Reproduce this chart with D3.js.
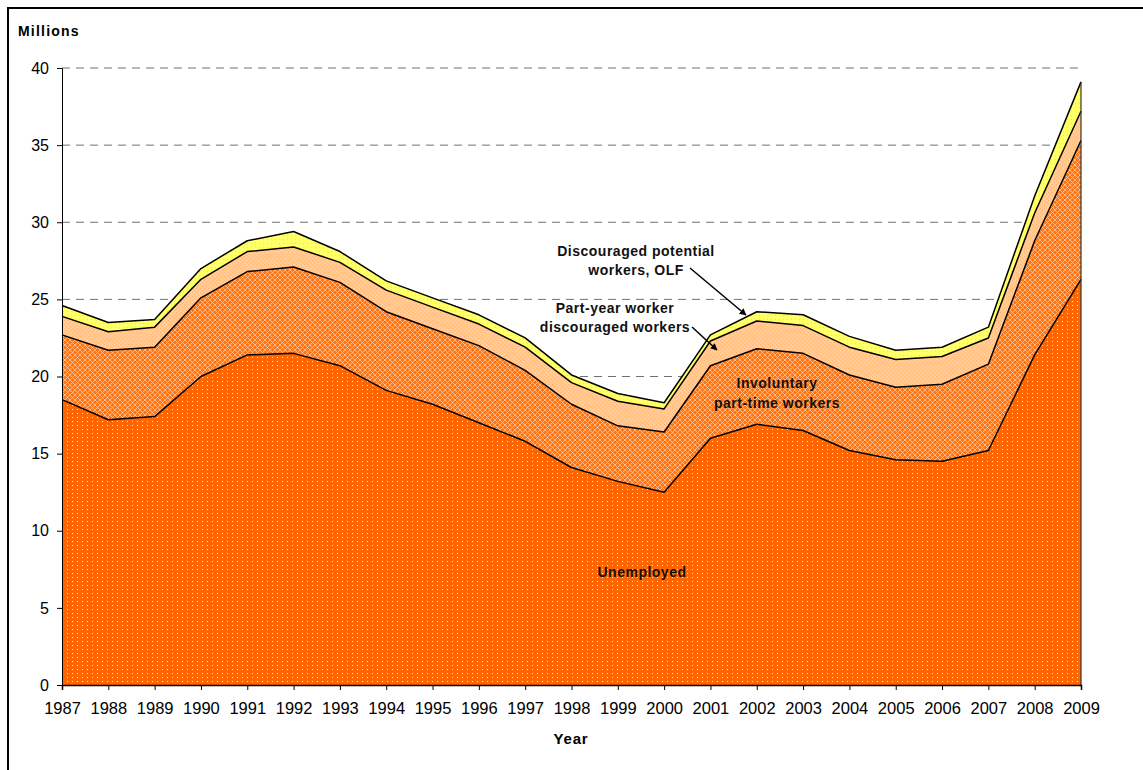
<!DOCTYPE html>
<html><head><meta charset="utf-8">
<script src="https://cdn.jsdelivr.net/npm/d3@7"></script>
<style>
html,body{margin:0;padding:0;background:#fff;}
svg{display:block;font-family:"Liberation Sans",Arial,sans-serif;}
</style></head>
<body>
<svg id="chart" width="1143" height="770"></svg>
<script>
const years = [1987,1988,1989,1990,1991,1992,1993,1994,1995,1996,1997,1998,1999,2000,2001,2002,2003,2004,2005,2006,2007,2008,2009];
const unemployed   = [18.5,17.2,17.4,20.0,21.4,21.5,20.7,19.1,18.2,17.0,15.8,14.1,13.2,12.5,16.0,16.9,16.5,15.2,14.6,14.5,15.2,21.4,26.3];
const involuntaryPT = [4.2,4.5,4.5,5.1,5.4,5.6,5.4,5.1,4.9,5.0,4.6,4.1,3.6,3.9,4.7,4.9,5.0,4.9,4.7,5.0,5.6,7.4,9.0];
const partYearDisc = [1.2,1.2,1.3,1.2,1.3,1.3,1.3,1.4,1.4,1.4,1.5,1.4,1.6,1.5,1.6,1.8,1.8,1.8,1.8,1.8,1.7,1.8,1.9];
const discouragedOLF = [0.7,0.6,0.5,0.7,0.7,1.0,0.7,0.6,0.6,0.6,0.6,0.5,0.5,0.4,0.4,0.6,0.7,0.7,0.6,0.6,0.7,1.1,1.9];
const yTicks = [0,5,10,15,20,25,30,35,40];
const seriesKeys = ["unemployed","involuntary","partyear","discouraged"];

const table = years.map((y,i)=>({year:y, unemployed:unemployed[i], involuntary:involuntaryPT[i], partyear:partYearDisc[i], discouraged:discouragedOLF[i]}));

const svg = d3.select("#chart");
const x = d3.scaleLinear().domain([1987,2009]).range([62,1081]);
const y = d3.scaleLinear().domain([0,40]).range([685,68]);

// patterns
const defs = svg.append("defs");
function pat(id, w, h, base, draw){
  const p = defs.append("pattern").attr("id",id).attr("patternUnits","userSpaceOnUse").attr("width",w).attr("height",h);
  p.append("rect").attr("width",w).attr("height",h).attr("fill",base);
  draw(p);
}
pat("pU",5,4,"#FF6600",p=>{
  p.append("rect").attr("x",2).attr("y",1).attr("width",1).attr("height",1).attr("fill","#FFE8D6");
});
pat("pI",5,5,"#FF7514",p=>{
  p.append("path").attr("d","M0,0L5,5M5,0L0,5").attr("stroke","#FFC9A3").attr("stroke-width",0.8);
});
pat("pP",4,4,"#FFCC99",p=>{
  p.append("rect").attr("x",0).attr("y",0).attr("width",1).attr("height",1).attr("fill","#FFB472");
  p.append("rect").attr("x",2).attr("y",2).attr("width",1).attr("height",1).attr("fill","#FFB472");
});
pat("pD",4,4,"#FFFF66",p=>{
  p.append("rect").attr("x",1).attr("y",1).attr("width",1).attr("height",1).attr("fill","#FFFFD8");
  p.append("rect").attr("x",3).attr("y",3).attr("width",1).attr("height",1).attr("fill","#EEEE50");
});
const fills = {unemployed:"url(#pU)", involuntary:"url(#pI)", partyear:"url(#pP)", discouraged:"url(#pD)"};

defs.append("marker").attr("id","arr").attr("viewBox","0 0 10 10").attr("refX",9).attr("refY",5)
  .attr("markerWidth",7).attr("markerHeight",7).attr("orient","auto").attr("markerUnits","userSpaceOnUse")
  .append("path").attr("d","M0,0L10,5L0,10z").attr("fill","#000");

// frame
svg.append("rect").attr("x",8).attr("y",8).attr("width",1300).attr("height",900)
  .attr("fill","none").attr("stroke","#000").attr("stroke-width",2);

// gridlines
svg.append("g").selectAll("line").data(yTicks.filter(d=>d>0)).join("line")
  .attr("x1",x(1987)).attr("x2",x(2009)).attr("y1",d=>y(d)).attr("y2",d=>y(d))
  .attr("stroke","#707070").attr("stroke-width",1).attr("stroke-dasharray","8,6");

// stacked areas
const stack = d3.stack().keys(seriesKeys);
const layers = stack(table);
const area = d3.area().x(d=>x(d.data.year)).y0(d=>y(d[0])).y1(d=>y(d[1]));
const topLine = d3.line().x(d=>x(d.data.year)).y(d=>y(d[1]));
svg.append("g").selectAll("path").data(layers).join("path")
  .attr("d",area).attr("fill",d=>fills[d.key]);
svg.append("g").selectAll("path").data(layers).join("path")
  .attr("d",topLine).attr("fill","none").attr("stroke","#000").attr("stroke-width",1.5).attr("stroke-linejoin","round");
// right edge
svg.append("line").attr("x1",x(2009)).attr("x2",x(2009)).attr("y1",y(0)).attr("y2",y(layers[3][22][1]))
  .attr("stroke","#333").attr("stroke-width",1.2);

// axes
const yAxis = d3.axisLeft(y).tickValues(yTicks).tickSize(5).tickPadding(8).tickFormat(d3.format("d"));
const gy = svg.append("g").attr("transform",`translate(${x(1987)},0)`).call(yAxis);
gy.select(".domain").attr("stroke","#000");
gy.selectAll(".tick text").attr("font-size",16).attr("font-family","Liberation Sans, Arial").attr("fill","#000");

const xAxis = d3.axisBottom(x).tickValues(years).tickSize(5).tickPadding(12).tickFormat(d3.format("d"));
const gx = svg.append("g").attr("transform",`translate(0,${y(0)})`).call(xAxis);
gx.select(".domain").attr("stroke","#000").attr("stroke-width",1.5);
gx.selectAll(".tick text").attr("font-size",16.5).attr("font-family","Liberation Sans, Arial").attr("fill","#000");

// titles
svg.append("text").attr("x",18).attr("y",36).attr("font-size",14).attr("font-weight","bold").attr("letter-spacing",1.2).text("Millions");
svg.append("text").attr("x",571).attr("y",744).attr("text-anchor","middle").attr("font-size",15).attr("font-weight","bold").attr("letter-spacing",0.8).text("Year");

// annotations
function label(lines, cx, y0, dy){
  const t = svg.append("text").attr("text-anchor","middle").attr("font-size",14).attr("font-weight","bold").attr("letter-spacing",0.5).attr("fill","#111");
  lines.forEach((s,i)=>t.append("tspan").attr("x",cx).attr("y",y0+i*dy).text(s));
}
label(["Discouraged potential","workers, OLF"],636,256,19);
label(["Part-year worker","discouraged workers"],615,313,19);
label(["Involuntary","part-time workers"],777,388,20);
label(["Unemployed"],642,577,0);

svg.append("line").attr("x1",690).attr("y1",268).attr("x2",746).attr("y2",315)
  .attr("stroke","#000").attr("stroke-width",1.5).attr("marker-end","url(#arr)");
svg.append("line").attr("x1",692).attr("y1",327).attr("x2",717).attr("y2",350)
  .attr("stroke","#000").attr("stroke-width",1.5).attr("marker-end","url(#arr)");
</script>
</body></html>
